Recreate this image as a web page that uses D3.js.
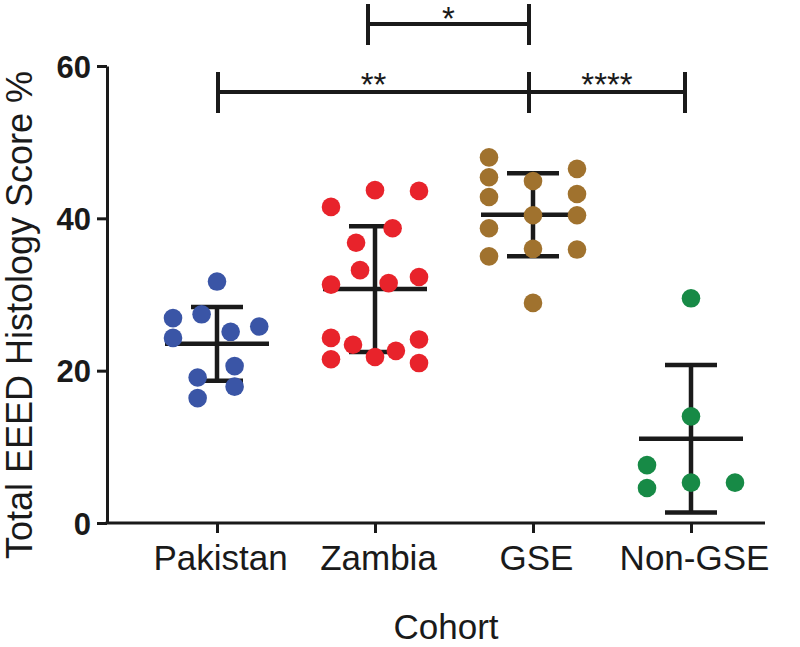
<!DOCTYPE html>
<html>
<head>
<meta charset="utf-8">
<script src="https://cdn.jsdelivr.net/npm/d3@7"></script>
<style>
  html, body { margin: 0; padding: 0; background: #fff; }
  svg { display: block; }
  text { font-family: "Liberation Sans", Arial, Helvetica, sans-serif; }
</style>
</head>
<body>
<svg id="chart" width="800" height="647"></svg>
<script>
// ---- data ----
const categories = ["Pakistan", "Zambia", "GSE", "Non-GSE"];
const colors = ["#3a55a6", "#e8232b", "#a0722e", "#178a46"];
const pakistan = [31.7, 26.9, 27.4, 25.1, 25.8, 24.3, 20.6, 19.1, 17.9, 16.4];
const zambia = [43.7, 43.6, 41.5, 38.7, 36.8, 33.2, 31.3, 31.5, 32.3, 24.3, 23.4, 24.1, 22.6, 21.8, 21.5, 21.0];
const gse = [48.0, 45.4, 42.8, 38.7, 35.0, 44.9, 40.4, 36.0, 28.9, 46.5, 43.2, 40.4, 35.9];
const nonGse = [29.5, 14.0, 7.6, 4.6, 5.3, 5.3];
// scatter slot of each point (in point-spacing units, 0 = centre of group)
const pakistanSlot = [0, -2, -0.7, 0.62, 1.92, -2, 0.8, -0.88, 0.8, -0.88];
const zambiaSlot = [0, 2, -2, 0.8, -0.86, -0.68, -2, 0.62, 2, -2, -1.0, 2, 0.95, 0, -2, 2];
const gseSlot = [-2, -2, -2, -2, -2, 0, 0, 0, 0, 2, 2, 2, 2];
const nonGseSlot = [0, 0, -2, -2, 0, 2];
const yTicks = [0, 20, 40, 60];
const comparisons = [
  { from: "Zambia", to: "GSE", label: "*", level: 0 },
  { from: "Pakistan", to: "GSE", label: "**", level: 1 },
  { from: "GSE", to: "Non-GSE", label: "****", level: 1 }
];
const yTitle = "Total EEED Histology Score %";
const xTitle = "Cohort";

const groups = [pakistan, zambia, gse, nonGse];
const slots = [pakistanSlot, zambiaSlot, gseSlot, nonGseSlot];

// ---- layout ----
const svg = d3.select("#chart");
const axisX0 = 107, axisX1 = 765, axisY = 523;
const x = d3.scalePoint().domain(categories).range([217, 691]);
const y = d3.scaleLinear().domain([0, 60]).range([axisY, 66]);
const slotW = 22, r = 9.3;

// y axis
const yAxis = svg.append("g").attr("transform", `translate(${axisX0},0)`)
  .call(d3.axisLeft(y).tickValues(yTicks).tickSize(10).tickPadding(6).tickSizeOuter(0));
yAxis.select(".domain").attr("stroke", "#1a1a1a").attr("stroke-width", 3);
yAxis.selectAll(".tick line").attr("stroke", "#1a1a1a").attr("stroke-width", 3);
yAxis.selectAll(".tick text").attr("font-size", 31).attr("font-weight", "bold")
  .attr("fill", "#1a1a1a").attr("dy", "0.36em")
  .style("font-family", '"Liberation Sans", Arial, sans-serif');

// x axis
svg.append("line").attr("x1", axisX0 - 1.5).attr("x2", axisX1).attr("y1", axisY).attr("y2", axisY)
  .attr("stroke", "#1a1a1a").attr("stroke-width", 3);
const xAxis = svg.append("g").attr("transform", `translate(0,${axisY})`)
  .call(d3.axisBottom(x).tickSize(10).tickPadding(12));
xAxis.select(".domain").remove();
xAxis.selectAll(".tick line").attr("stroke", "#1a1a1a").attr("stroke-width", 3);
xAxis.selectAll(".tick text").attr("font-size", 35).attr("fill", "#1a1a1a").attr("dy", "0.72em")
  .attr("dx", 3)
  .style("font-family", '"Liberation Sans", Arial, sans-serif');

// axis titles
svg.append("text").attr("x", 446).attr("y", 639).attr("text-anchor", "middle")
  .attr("font-size", 35).attr("fill", "#1a1a1a").text(xTitle);
svg.append("text").attr("transform", `translate(32,${315}) rotate(-90)`)
  .attr("text-anchor", "middle").attr("font-size", 36).attr("fill", "#1a1a1a").text(yTitle);

// error bars (mean ± SD) computed from the data
groups.forEach((vals, i) => {
  const cx = x(categories[i]);
  const m = d3.mean(vals), sd = d3.deviation(vals);
  const g = svg.append("g").attr("stroke", "#1a1a1a").attr("stroke-width", 4.5);
  g.append("line").attr("x1", cx).attr("x2", cx).attr("y1", y(m + sd)).attr("y2", y(m - sd));
  g.append("line").attr("x1", cx - 26).attr("x2", cx + 26).attr("y1", y(m + sd)).attr("y2", y(m + sd));
  g.append("line").attr("x1", cx - 26).attr("x2", cx + 26).attr("y1", y(m - sd)).attr("y2", y(m - sd));
  g.append("line").attr("x1", cx - 52).attr("x2", cx + 52).attr("y1", y(m)).attr("y2", y(m));
});

// points
groups.forEach((vals, i) => {
  const cx = x(categories[i]);
  svg.append("g").selectAll("circle").data(vals).join("circle")
    .attr("cx", (d, j) => cx + slots[i][j] * slotW)
    .attr("cy", d => y(d))
    .attr("r", r)
    .attr("fill", colors[i]);
});

// significance brackets
const levelY = [24, 92];
const inset = { "Pakistan": 1, "Zambia": -7, "GSE": -4, "Non-GSE": -6 };
comparisons.forEach(c => {
  const x1 = x(c.from) + inset[c.from], x2 = x(c.to) + inset[c.to], ly = levelY[c.level];
  const g = svg.append("g").attr("stroke", "#1a1a1a").attr("stroke-width", 4);
  g.append("line").attr("x1", x1).attr("x2", x2).attr("y1", ly).attr("y2", ly);
  g.append("line").attr("x1", x1).attr("x2", x1).attr("y1", ly - 20).attr("y2", ly + 21);
  g.append("line").attr("x1", x2).attr("x2", x2).attr("y1", ly - 20).attr("y2", ly + 21);
  svg.append("text").attr("x", (x1 + x2) / 2).attr("y", Math.max(ly + 4, 30)).attr("text-anchor", "middle")
    .attr("font-size", 33).attr("fill", "#1a1a1a").text(c.label);
});
</script>
</body>
</html>
